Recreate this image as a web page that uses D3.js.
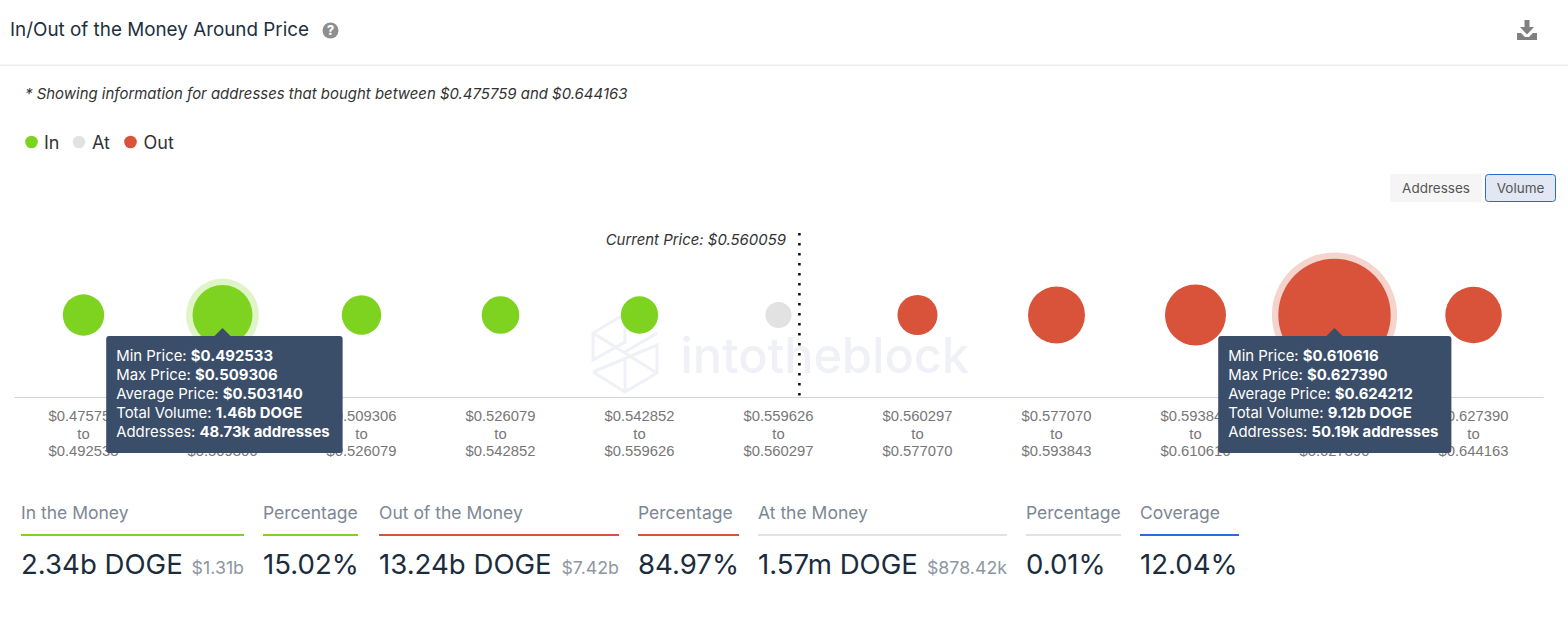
<!DOCTYPE html>
<html>
<head>
<meta charset="utf-8">
<script src="https://cdnjs.cloudflare.com/ajax/libs/d3/7.8.5/d3.min.js"></script>
<style>
html,body{margin:0;padding:0;background:#fff;overflow:hidden}
svg{display:block;font-family:Inter,"Noto Sans",sans-serif}
</style>
</head>
<body>
<svg id="c" width="1568" height="629"></svg>
<script>
// ---- data ----
const priceEdges = ["0.475759","0.492533","0.509306","0.526079","0.542852","0.559626","0.560297","0.577070","0.593843","0.610616","0.627390","0.644163"];
const volumes = [0.32,1.46,0.25,0.19,0.18,0.00157,0.27,1.22,1.55,9.12,1.18];
const states = ["In","In","In","In","In","At","Out","Out","Out","Out","Out"];
const legendItems = ["In","At","Out"];
const currentPrice = 0.560059;
const tooltipIndices = [1,9];
const tooltipAvg = ["0.503140","0.624212"];
const tooltipVol = ["1.46b DOGE","9.12b DOGE"];
const tooltipAddr = ["48.73k addresses","50.19k addresses"];
const statLabels = ["In the Money","Percentage","Out of the Money","Percentage","At the Money","Percentage","Coverage"];
const statValues = ["2.34b DOGE","15.02%","13.24b DOGE","84.97%","1.57m DOGE","0.01%","12.04%"];
const statSubs = ["$1.31b","","$7.42b","","$878.42k","",""];
const statKinds = ["In","In","Out","Out","At","At","Cov"];

// ---- layout & style ----
const colors = {In:"#7ed321",At:"#e2e2e2",Out:"#d9523a",Cov:"#2a6be0"};
const statLeft  = [21,263,379,638,758,1026,1140];
const statRight = [244,358,619,739,1007,1121,1239];
const svg = d3.select("#c");
const cy = 315, axisY = 397;

// watermark
const wm = svg.append("g").attr("fill","none").attr("stroke","#eff1f6").attr("stroke-width",3);
wm.append("path").attr("d","M623 315L593 333V360L625 342V315M593 333L657 373M593 372L625 392L657 373V345L593 372M625 392V357M657 333L625 352");
svg.append("text").attr("x",680.5).attr("y",373).attr("font-size",48.7).attr("font-weight",500)
  .attr("fill","#eff1f6").text("intotheblock");

// header
svg.append("text").attr("x",10).attr("y",36).attr("font-size",18.85).attr("fill","#1d3040").text("In/Out of the Money Around Price");
svg.append("circle").attr("cx",330.5).attr("cy",30.5).attr("r",8).attr("fill","#8e8e8e");
svg.append("text").attr("x",330.5).attr("y",35).attr("font-size",12.5).attr("font-weight",800).attr("text-anchor","middle").attr("fill","#fff").text("?");
svg.append("rect").attr("x",0).attr("y",64.5).attr("width",1568).attr("height",1.5).attr("fill","#ececec");
svg.append("path").attr("fill","#808080").attr("d","M1524.5 20H1529.5V27H1534L1527 34.5L1520 27H1524.5ZM1517 33H1521L1525 37H1529L1533 33H1537V40H1517Z");

// note
svg.append("text").attr("x",25).attr("y",98.5).attr("font-size",14.95).attr("font-style","italic").attr("fill","#333")
  .text("* Showing information for addresses that bought between $"+priceEdges[0]+" and $"+priceEdges[11]);

// legend
const legendDot = [31.5,79,130.5], legendText = [44,92,143.5];
legendItems.forEach((d,i)=>{
  svg.append("circle").attr("cx",legendDot[i]).attr("cy",142).attr("r",6.3).attr("fill",colors[d]);
  svg.append("text").attr("x",legendText[i]).attr("y",148.5).attr("font-size",18).attr("fill","#333").text(d);
});

// buttons
svg.append("rect").attr("x",1390).attr("y",174).attr("width",92).attr("height",28).attr("rx",3).attr("fill","#f5f5f5");
svg.append("text").attr("x",1436).attr("y",193).attr("font-size",13.5).attr("text-anchor","middle").attr("fill","#555").text("Addresses");
svg.append("rect").attr("x",1485.5).attr("y",174.5).attr("width",70).attr("height",27).attr("rx",3).attr("fill","#e1e7f3").attr("stroke","#2a67d8");
svg.append("text").attr("x",1520.5).attr("y",193).attr("font-size",13.5).attr("text-anchor","middle").attr("fill","#555").text("Volume");

// scales
const idx = volumes.map((_,i)=>i);
const x = d3.scaleBand().domain(idx).range([14,1543]);
const r = d3.scaleSqrt().domain([0,d3.max(volumes)]).range([12.5,56.2]);

// axis
const axis = d3.axisBottom(x).tickSize(0).tickSizeOuter(0).tickFormat("");
const ax = svg.append("g").attr("transform",`translate(0,${axisY})`).call(axis);
ax.select(".domain").attr("stroke","#ccd5e8").attr("stroke-width",1);
ax.selectAll(".tick text").remove();
ax.selectAll(".tick").each(function(d){
  const t = d3.select(this).append("text").attr("text-anchor","middle").attr("font-size",14.8).attr("fill","#777");
  [["$"+priceEdges[d],24],["to",41.5],["$"+priceEdges[d+1],59]].forEach(([s,y])=>
    t.append("tspan").attr("x",0).attr("y",y).text(s));
});

// current price line
const curBin = 5;
const curX = x(curBin)+x.bandwidth()*(currentPrice-priceEdges[curBin])/(priceEdges[curBin+1]-priceEdges[curBin]);
svg.append("line").attr("x1",curX+0.7).attr("x2",curX+0.7).attr("y1",233).attr("y2",axisY)
  .attr("stroke","#111").attr("stroke-width",2.6).attr("stroke-dasharray","2.6 7.4");
svg.append("text").attr("x",786).attr("y",245).attr("font-size",14.95).attr("font-style","italic").attr("text-anchor","end").attr("fill","#333")
  .text("Current Price: $"+currentPrice.toFixed(6));

// halos + bubbles
svg.selectAll("circle.halo").data(tooltipIndices).join("circle").attr("class","halo")
  .attr("cx",i=>x(i)+x.bandwidth()/2).attr("cy",cy).attr("r",i=>r(volumes[i])+6.4)
  .attr("fill",i=>colors[states[i]]).attr("fill-opacity",.25);
svg.selectAll("circle.bub").data(idx).join("circle").attr("class","bub")
  .attr("cx",i=>x(i)+x.bandwidth()/2).attr("cy",cy).attr("r",i=>r(volumes[i]))
  .attr("fill",i=>colors[states[i]]);

// tooltips
tooltipIndices.forEach((bin,k)=>{
  const c = x(bin)+x.bandwidth()/2, left = c-116.3, top = 336;
  const g = svg.append("g");
  const box = g.append("rect").attr("y",top).attr("height",117).attr("x",left).attr("rx",3).attr("fill","#3a4d69");
  g.append("path").attr("fill","#3a4d69").attr("d",d3.line()([[c-8,top],[c,top-8],[c+8,top]]));
  const rows = [["Min Price: ","$"+priceEdges[bin]],["Max Price: ","$"+priceEdges[bin+1]],
    ["Average Price: ","$"+tooltipAvg[k]],["Total Volume: ",tooltipVol[k]],["Addresses: ",tooltipAddr[k]]];
  let w = 0;
  rows.forEach((row,j)=>{
    const t = g.append("text").attr("x",left+10).attr("y",top+25+j*19).attr("font-size",14.9).attr("fill","#fff");
    t.append("tspan").text(row[0]);
    t.append("tspan").attr("font-weight",700).text(row[1]);
    w = Math.max(w,t.node().getComputedTextLength());
  });
  box.attr("width",w+23);
});

// stats
statLabels.forEach((d,i)=>{
  const l = statLeft[i], rr = statRight[i];
  svg.append("text").attr("x",l).attr("y",519).attr("font-size",17.5).attr("fill","#7c8894").text(d);
  svg.append("rect").attr("x",l).attr("y",534).attr("width",rr-l).attr("height",2).attr("fill",colors[statKinds[i]]);
  svg.append("text").attr("x",l).attr("y",574).attr("font-size",27.6).attr("fill","#1b2d3d").text(statValues[i]);
  if(statSubs[i]) svg.append("text").attr("x",rr).attr("y",574).attr("text-anchor","end").attr("font-size",17.8).attr("fill","#8d98a3").text(statSubs[i]);
});
</script>
</body>
</html>
